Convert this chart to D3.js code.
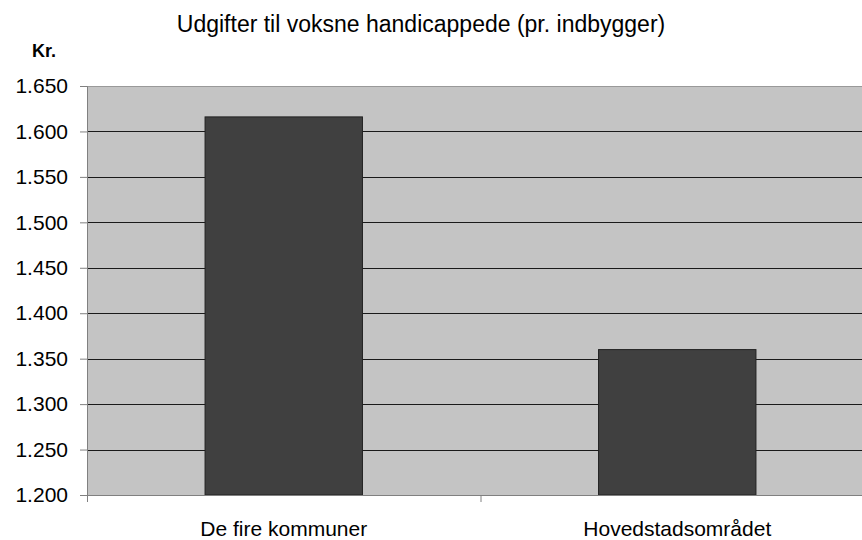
<!DOCTYPE html>
<html lang="da">
  <head>
    <meta charset="utf-8">
    <title>Udgifter til voksne handicappede</title>
    <style>
      body { margin: 0; background: #fff; }
      text { font-family: "Liberation Sans", Arial, sans-serif; fill: #000; }
    </style>
  </head>
  <body>
<script src="https://d3js.org/d3.v7.min.js"></script>
<script>
// data
var categories = ["De fire kommuner", "Hovedstadsområdet"];
var values = [1616, 1360];
var yTicks = [1200, 1250, 1300, 1350, 1400, 1450, 1500, 1550, 1600, 1650];

var W = 862, H = 540;
// plot area runs a little past the right edge, as in the original
var margin = {top: 86, left: 87, bottom: 45, right: -12};
var w = W - margin.left - margin.right,
    h = H - margin.top - margin.bottom;

// danish thousands separator
var fmt = function (v) { return d3.format(",.0f")(v).replace(/,/g, "."); };

var svg = d3.select("body").append("svg")
  .attr("width", W)
  .attr("height", H);

var g = svg.append("g")
  .attr("transform", "translate(" + margin.left + "," + margin.top + ")");

var x = d3.scaleBand()
  .domain(categories)
  .range([0, w])
  .paddingInner(0.6)
  .paddingOuter(0.3);

var xb = d3.scaleBand().domain(categories).range([0, w]);

var y = d3.scaleLinear()
  .domain([1200, 1650])
  .range([h, 0]);

// plot background
g.append("rect")
  .attr("width", w)
  .attr("height", h)
  .attr("fill", "#c4c4c4");

g.append("line")
  .attr("x1", 0).attr("x2", w)
  .attr("y1", 0.5).attr("y2", 0.5)
  .attr("stroke", "#999");

// gridlines
g.selectAll(".grid")
  .data(yTicks.filter(function (t) { return t > 1200 && t < 1650; }))
  .enter()
  .append("line")
    .attr("x1", 0).attr("x2", w)
    .attr("y1", function (d) { return Math.round(y(d)) + 0.5; })
    .attr("y2", function (d) { return Math.round(y(d)) + 0.5; })
    .attr("stroke", "#1a1a1a")
    .attr("stroke-width", 1);

// bars
g.selectAll(".bar")
  .data(values)
  .enter()
  .append("rect")
    .attr("x", function (d, i) { return x(categories[i]); })
    .attr("y", function (d) { return y(d); })
    .attr("width", x.bandwidth())
    .attr("height", function (d) { return h - y(d); })
    .attr("fill", "#404040")
    .attr("stroke", "#222")
    .attr("stroke-width", 1);

// y axis
var yAxis = g.append("g")
  .call(d3.axisLeft(y).tickValues(yTicks).tickSize(7).tickPadding(12).tickFormat(fmt));
yAxis.select(".domain").attr("stroke", "#808080");
yAxis.selectAll(".tick line").attr("stroke", "#808080");
yAxis.selectAll("text").style("font-size", "21px").attr("fill", "#000");

// x axis
var xAxis = g.append("g")
  .attr("transform", "translate(0," + h + ")")
  .call(d3.axisBottom(xb).tickSize(0).tickPadding(26));
xAxis.select(".domain").attr("stroke", "#808080");
xAxis.selectAll("text").style("font-size", "21px").attr("fill", "#000");

g.append("g").selectAll("line")
  .data([0, xb(categories[1])])
  .enter()
  .append("line")
    .attr("x1", function (d) { return d + 0.5; })
    .attr("x2", function (d) { return d + 0.5; })
    .attr("y1", h).attr("y2", h + 7)
    .attr("stroke", "#808080");

// title and unit
svg.append("text")
  .attr("x", 421)
  .attr("y", 32)
  .attr("text-anchor", "middle")
  .style("font-size", "23px")
  .text("Udgifter til voksne handicappede (pr. indbygger)");

svg.append("text")
  .attr("x", 32)
  .attr("y", 57)
  .style("font-size", "18px")
  .style("font-weight", "bold")
  .text("Kr.");
</script>
  </body>
</html>
